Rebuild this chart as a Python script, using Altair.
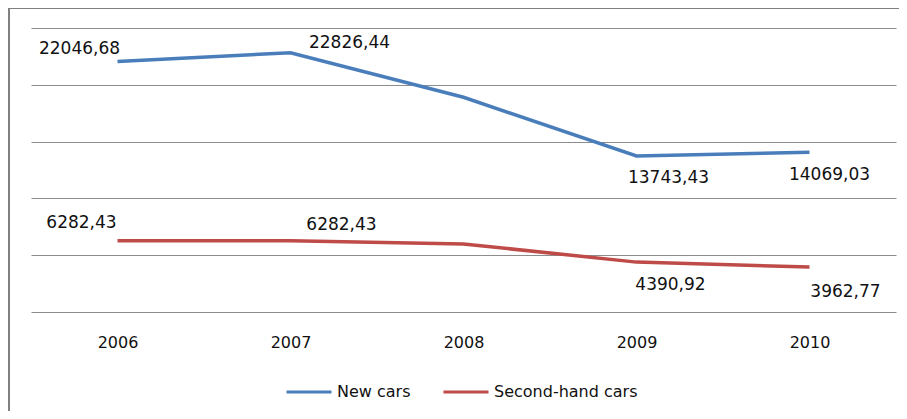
import altair as alt
import pandas as pd

years = ["2006", "2007", "2008", "2009", "2010"]
new_cars = [22046.68, 22826.44, 18900.0, 13743.43, 14069.03]
second_hand = [6282.43, 6282.43, 5990.0, 4390.92, 3962.77]
series_names = ["New cars", "Second-hand cars"]
colors = ["#4A7EBB", "#BE4B48"]
y_ticks = [0, 5000, 10000, 15000, 20000, 25000]

# which points get a data label (2008 has none)
labelled_years = ["2006", "2007", "2009", "2010"]

# label offsets (style): (series, year) -> (dx, dy)
LABEL_OFFSETS = {
    ("New cars", "2006"): (-38, -13),
    ("New cars", "2007"): (59, -10),
    ("New cars", "2009"): (32, 22),
    ("New cars", "2010"): (20, 23),
    ("Second-hand cars", "2006"): (-36, -18),
    ("Second-hand cars", "2007"): (51, -16),
    ("Second-hand cars", "2009"): (34, 23),
    ("Second-hand cars", "2010"): (36, 25),
}

rows = []
for name, vals in zip(series_names, [new_cars, second_hand]):
    for y, v in zip(years, vals):
        rows.append({"year": y, "value": v, "series": name,
                     "label": f"{v:.2f}".replace(".", ",")})
df = pd.DataFrame(rows)

FONT = "DejaVu Sans"

x_enc = alt.X("year:N", sort=years,
              scale=alt.Scale(type="point", padding=0.5),
              axis=alt.Axis(title=None, labelAngle=0, domain=False, ticks=False,
                            labelPadding=22, labelFontSize=16, labelFont=FONT,
                            labelColor="#111", grid=False))
y_enc = alt.Y("value:Q", scale=alt.Scale(domain=[0, 25000], nice=False),
              axis=alt.Axis(title=None, values=y_ticks, labels=False, ticks=False,
                            domain=False, grid=True, gridColor="#8c8c8c",
                            gridWidth=1.2))
color_enc = alt.Color("series:N",
                      scale=alt.Scale(domain=series_names, range=colors),
                      legend=alt.Legend(title=None, orient="none", direction="horizontal",
                                        legendX=254, legendY=340,
                                        symbolType="stroke", symbolSize=2025,
                                        symbolStrokeWidth=3, labelFontSize=16,
                                        labelFont=FONT, labelColor="#111",
                                        columnPadding=26, labelOffset=4))

lines = alt.Chart(df).mark_line(strokeWidth=3.5).encode(x=x_enc, y=y_enc, color=color_enc)

layers = [lines]
for (series, yr), (dx, dy) in LABEL_OFFSETS.items():
    if yr not in labelled_years:
        continue
    t = alt.Chart(df).transform_filter(
        (alt.datum.series == series) & (alt.datum.year == yr)
    ).mark_text(dx=dx, dy=dy, fontSize=17, font=FONT, color="#111").encode(
        x=alt.X("year:N", sort=years), y="value:Q", text="label:N")
    layers.append(t)

frame_left = alt.Chart(pd.DataFrame({"a": [0]})).mark_rule(
    color="#808080", strokeWidth=2).encode(
    x=alt.value(-22), y=alt.value(-20), y2=alt.value(383))
frame_top = alt.Chart(pd.DataFrame({"a": [0]})).mark_rule(
    color="#808080", strokeWidth=2).encode(
    x=alt.value(-23), x2=alt.value(880), y=alt.value(-20))
layers += [frame_left, frame_top]

chart = alt.layer(*layers).properties(
    width=865, height=284,
    autosize=alt.AutoSizeParams(type="none"),
    padding={"left": 23, "top": 20, "right": 3, "bottom": 99},
    background="white",
).configure_view(stroke=None)

chart.save("out.html", embed_options={"renderer": "svg", "actions": False})
